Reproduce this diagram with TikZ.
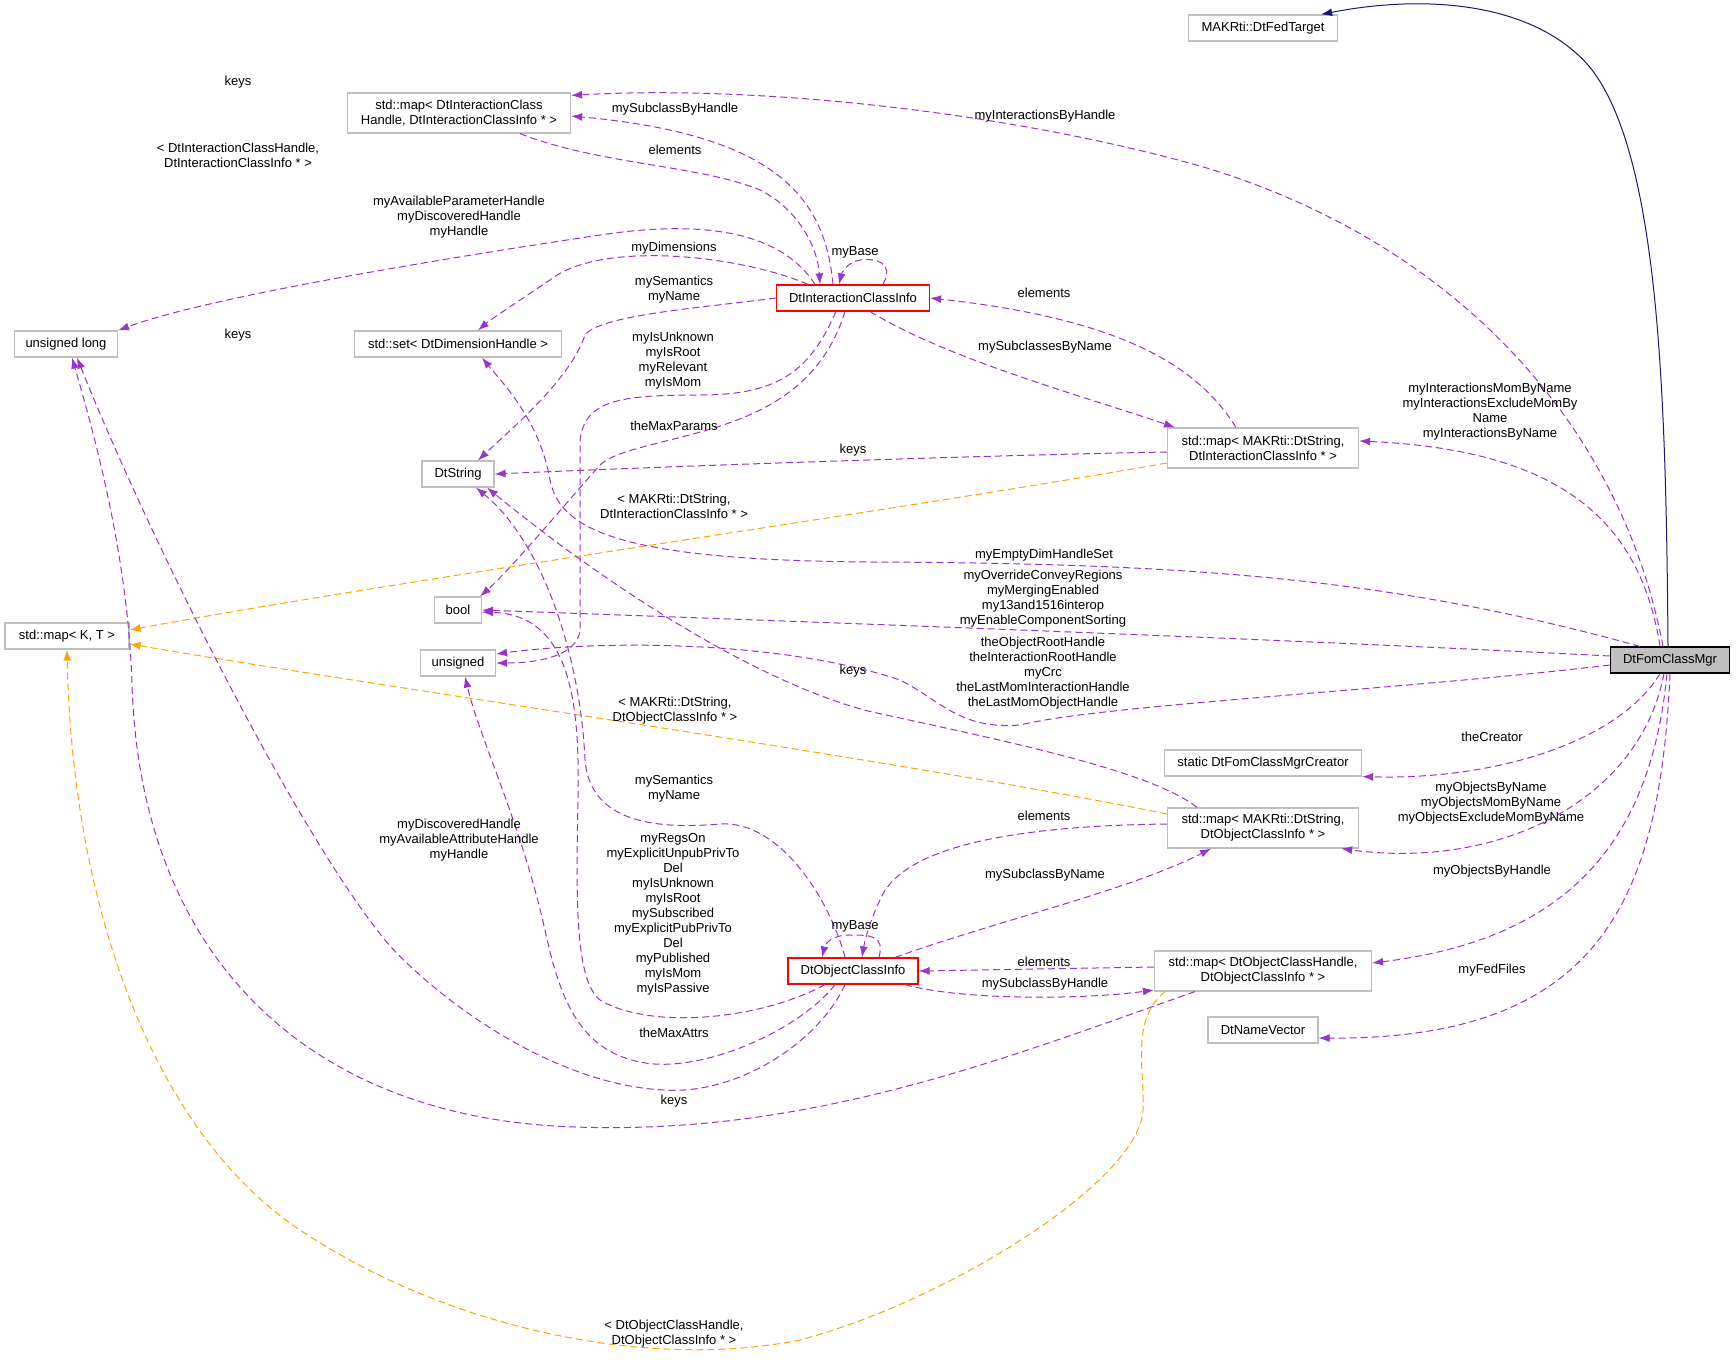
\documentclass[tikz,border=0pt]{standalone}
\usepackage{fontspec}
\setmainfont{Liberation Sans}
\usetikzlibrary{arrows.meta}
\definecolor{pur}{HTML}{9A32CD}
\definecolor{org}{HTML}{FFA500}
\definecolor{nav}{HTML}{191970}
\definecolor{gb}{HTML}{BFBFBF}
\begin{document}
\begin{tikzpicture}[x=1pt,y=-1pt,
  box/.style={draw=gb,line width=1.2pt,fill=white,inner sep=0pt,align=center,font=\fontsize{13}{15}\selectfont},
  rbox/.style={box,draw=red},
  lbl/.style={inner sep=0pt,align=center,font=\fontsize{13}{15}\selectfont},
  e/.style={draw=pur,line width=1pt,dash pattern=on 7pt off 4pt,-{Latex[length=11pt,width=8pt]}},
  o/.style={e,draw=org,-{Latex[length=11pt,width=8pt]}},
]
\path[fill=white] (0,0) rectangle (1736,1368);
\useasboundingbox (0,0) rectangle (1736,1368);
% nodes
\node[box,minimum width=149pt,minimum height=26pt] (ft) at (1263,28) {MAKRti::DtFedTarget};
\node[box,minimum width=223pt,minimum height=40pt] (mapIC) at (459,113) {std::map< DtInteractionClass\\Handle, DtInteractionClassInfo * >};
\node[box,minimum width=103pt,minimum height=26pt] (ulong) at (66,344) {unsigned long};
\node[box,minimum width=207pt,minimum height=26pt] (set) at (458,344) {std::set< DtDimensionHandle >};
\node[rbox,minimum width=153pt,minimum height=26pt] (ici) at (853,298) {DtInteractionClassInfo};
\node[box,minimum width=72pt,minimum height=26pt] (dstr) at (458,474) {DtString};
\node[box,minimum width=47pt,minimum height=26pt] (bool) at (458,610) {bool};
\node[box,minimum width=75pt,minimum height=26pt] (uns) at (458,663) {unsigned};
\node[box,minimum width=124pt,minimum height=26pt] (mapKT) at (67,636) {std::map< K, T >};
\node[box,minimum width=191pt,minimum height=40pt] (mapMI) at (1263,448) {std::map< MAKRti::DtString,\\DtInteractionClassInfo * >};
\node[box,draw=black,fill=gb,minimum width=119pt,minimum height=26pt] (mgr) at (1670,660) {DtFomClassMgr};
\node[box,minimum width=197pt,minimum height=26pt] (creator) at (1263,763) {static DtFomClassMgrCreator};
\node[box,minimum width=191pt,minimum height=40pt] (mapMO) at (1263,828) {std::map< MAKRti::DtString,\\DtObjectClassInfo * >};
\node[box,minimum width=217pt,minimum height=40pt] (mapOH) at (1263,971) {std::map< DtObjectClassHandle,\\DtObjectClassInfo * >};
\node[box,minimum width=110pt,minimum height=26pt] (namevec) at (1263,1030) {DtNameVector};
\node[rbox,minimum width=130pt,minimum height=26pt] (oci) at (853,971) {DtObjectClassInfo};
% edges
\draw[draw=nav,line width=1pt,-{Latex[length=11pt,width=8pt]}] ([xshift=-2pt]mgr.north) .. controls (1666,400) and (1660,150) .. (1588,65) .. controls (1530,0) and (1420,-5) .. ([xshift=-17pt]ft.north east);
\draw[e] ([xshift=-7pt]mgr.north) .. controls (1620,420) and (1450,240) .. (1200,166) .. controls (1000,110) and (750,85) .. ([yshift=-3pt]mapIC.north east);
\draw[e] ([xshift=-20pt]ici.north) .. controls (825,200) and (780,135) .. ([yshift=-3pt]mapIC.east);
\draw[e] ([xshift=61pt]mapIC.south) .. controls (600,165) and (700,165) .. (760,190) .. controls (800,210) and (818,250) .. ([xshift=-33pt]ici.north);
\draw[e] ([xshift=30pt]ici.north) .. controls (895,262) and (875,258) .. (860,260) .. controls (848,262) and (842,272) .. ([xshift=-14pt]ici.north);
\draw[e] ([xshift=-38pt]ici.north) .. controls (780,230) and (700,220) .. (600,235) .. controls (400,265) and (200,300) .. (ulong.north east);
\draw[e] ([xshift=-45pt]ici.north) .. controls (740,255) and (600,240) .. (550,280) .. controls (520,300) and (490,320) .. ([xshift=20pt]set.north);
\draw[e] (ici.west) .. controls (700,308) and (600,315) .. (585,335) .. controls (570,380) and (510,430) .. ([xshift=20pt]dstr.north);
\draw[e] ([xshift=-8pt]ici.south) .. controls (830,360) and (800,390) .. (760,410) .. controls (700,440) and (620,445) .. (600,465) .. controls (560,510) and (510,570) .. ([xshift=22pt]bool.north);
\draw[e] ([xshift=-17pt]ici.south) .. controls (810,370) and (780,395) .. (700,395) .. controls (620,395) and (585,400) .. (580,440) -- (580,630) .. controls (578,655) and (540,663) .. (uns.east);
\draw[e] ([yshift=-4pt]mapMI.west) .. controls (1000,455) and (700,465) .. (dstr.east);
\draw[o] ([yshift=-15pt]mapMI.west) .. controls (900,510) and (400,580) .. ([yshift=6pt]mapKT.east);
\draw[e] ([xshift=17pt]ici.south) .. controls (950,360) and (1080,395) .. ([xshift=-88pt]mapMI.north);
\draw[e] ([xshift=-27pt]mapMI.north) .. controls (1200,370) and (1130,320) .. (ici.east);
\draw[e] ([xshift=-10pt]mgr.north) .. controls (1640,520) and (1560,450) .. ([yshift=7pt]mapMI.east);
\draw[e] ([xshift=-30pt]mgr.north) .. controls (1400,580) and (1200,563) .. (868,562) .. controls (620,560) and (560,530) .. (550,480) .. controls (540,420) and (500,380) .. ([xshift=24pt]set.south);
\draw[e] ([yshift=4pt]mgr.west) .. controls (1300,640) and (900,625) .. (bool.east);
\draw[e] ([yshift=-5pt]mgr.west) .. controls (1400,690) and (1100,705) .. (1020,725) .. controls (960,730) and (940,700) .. (900,680) .. controls (780,640) and (600,640) .. ([yshift=9pt]uns.east);
\draw[e] ([xshift=-10pt]mgr.south) .. controls (1620,740) and (1500,780) .. (creator.south east);
\draw[e] ([xshift=-6pt]mgr.south) .. controls (1640,800) and (1500,870) .. ([xshift=-18pt]mapMO.south east);
\draw[e] ([xshift=-3pt]mgr.south) .. controls (1650,850) and (1560,940) .. ([yshift=8pt]mapOH.east);
\draw[e] (mgr.south) .. controls (1660,900) and (1600,1040) .. ([yshift=-8pt]namevec.east);
\draw[e] ([xshift=-66pt]mapMO.north) .. controls (1150,770) and (1000,740) .. (868,711) .. controls (750,680) and (600,580) .. ([xshift=29pt]dstr.south);
\draw[o] ([yshift=14pt]mapMO.west) .. controls (900,760) and (400,690) .. ([yshift=-8pt]mapKT.east);
\draw[e] ([yshift=4pt]mapMO.west) .. controls (1000,826) and (900,850) .. (880,900) .. controls (868,925) and (864,945) .. ([xshift=9pt]oci.north);
\draw[e] ([xshift=42pt]oci.north) .. controls (1000,920) and (1130,890) .. ([xshift=-52pt]mapMO.south);
\draw[e] ([xshift=26pt]oci.north) .. controls (885,935) and (870,935) .. (850,935) .. controls (830,935) and (825,945) .. ([xshift=-31pt]oci.north);
\draw[e] ([yshift=4pt]mapOH.west) -- (oci.east);
\draw[e] ([xshift=52pt]oci.south) .. controls (960,1000) and (1080,1000) .. ([yshift=-19pt]mapOH.west);
\draw[e] ([xshift=-68pt]mapOH.south) .. controls (1000,1060) and (800,1140) .. (554,1126) .. controls (300,1110) and (140,950) .. (132,684) .. controls (128,550) and (90,420) .. ([xshift=6pt]ulong.south);
\draw[o] ([xshift=-98pt]mapOH.south) .. controls (1130,1020) and (1145,1070) .. (1143,1110) .. controls (1140,1180) and (950,1300) .. (800,1340) .. controls (650,1370) and (450,1330) .. (300,1230) .. controls (150,1130) and (72,900) .. (mapKT.south);
\draw[e] ([xshift=-8pt]oci.north) .. controls (830,900) and (780,820) .. (720,824) .. controls (650,830) and (590,820) .. (585,760) .. controls (580,650) and (540,540) .. ([xshift=18pt]dstr.south);
\draw[e] ([xshift=-28pt]oci.south) .. controls (760,1020) and (650,1030) .. (600,1000) .. controls (575,980) and (576,900) .. (578,800) .. controls (580,700) and (570,615) .. ([yshift=-2pt]bool.east);
\draw[e] ([xshift=-18pt]oci.south) .. controls (800,1030) and (700,1075) .. (640,1062) .. controls (580,1050) and (560,1000) .. (545,930) .. controls (520,820) and (480,740) .. ([xshift=7pt]uns.south);
\draw[e] ([xshift=-8pt]oci.south) .. controls (820,1040) and (740,1095) .. (664,1090) .. controls (560,1085) and (450,1010) .. (390,946) .. controls (300,840) and (150,540) .. ([xshift=11pt]ulong.south);
% labels
\node[lbl] (l1) at (238,82) {keys};
\node[lbl] (l2) at (675,109) {mySubclassByHandle};
\node[lbl] (l3) at (675,150) {elements};
\node[lbl] (l4) at (238,155) {< DtInteractionClassHandle,\\DtInteractionClassInfo * >};
\node[lbl] (l5) at (459,217) {myAvailableParameterHandle\\myDiscoveredHandle\\myHandle};
\node[lbl] (l6) at (674,248) {myDimensions};
\node[lbl] (l7) at (855,252) {myBase};
\node[lbl] (l8) at (674,290) {mySemantics\\myName};
\node[lbl] (l9) at (238,335) {keys};
\node[lbl] (l10) at (673,361) {myIsUnknown\\myIsRoot\\myRelevant\\myIsMom};
\node[lbl] (l11) at (674,426) {theMaxParams};
\node[lbl] (l12) at (853,450) {keys};
\node[lbl] (l13) at (674,506) {< MAKRti::DtString,\\DtInteractionClassInfo * >};
\node[lbl] (l14) at (853,671) {keys};
\node[lbl] (l15) at (1045,116) {myInteractionsByHandle};
\node[lbl] (l16) at (1044,293) {elements};
\node[lbl] (l17) at (1045,347) {mySubclassesByName};
\node[lbl] (l18) at (1490,412) {myInteractionsMomByName\\myInteractionsExcludeMomBy\\Name\\myInteractionsByName};
\node[lbl] (l19) at (1044,555) {myEmptyDimHandleSet};
\node[lbl] (l20) at (1043,599) {myOverrideConveyRegions\\myMergingEnabled\\my13and1516interop\\myEnableComponentSorting};
\node[lbl] (l21) at (1043,673) {theObjectRootHandle\\theInteractionRootHandle\\myCrc\\theLastMomInteractionHandle\\theLastMomObjectHandle};
\node[lbl] (l22) at (1492,737) {theCreator};
\node[lbl] (l23) at (1491,803) {myObjectsByName\\myObjectsMomByName\\myObjectsExcludeMomByName};
\node[lbl] (l24) at (1492,871) {myObjectsByHandle};
\node[lbl] (l25) at (1492,970) {myFedFiles};
\node[lbl] (l26) at (1044,816) {elements};
\node[lbl] (l27) at (1045,875) {mySubclassByName};
\node[lbl] (l28) at (1044,962) {elements};
\node[lbl] (l29) at (1045,984) {mySubclassByHandle};
\node[lbl] (l30) at (675,711) {< MAKRti::DtString,\\DtObjectClassInfo * >};
\node[lbl] (l31) at (674,789) {mySemantics\\myName};
\node[lbl] (l32) at (459,840) {myDiscoveredHandle\\myAvailableAttributeHandle\\myHandle};
\node[lbl] (l33) at (673,914) {myRegsOn\\myExplicitUnpubPrivTo\\Del\\myIsUnknown\\myIsRoot\\mySubscribed\\myExplicitPubPrivTo\\Del\\myPublished\\myIsMom\\myIsPassive};
\node[lbl] (l34) at (855,926) {myBase};
\node[lbl] (l35) at (674,1033) {theMaxAttrs};
\node[lbl] (l36) at (674,1101) {keys};
\node[lbl] (l37) at (674,1334) {< DtObjectClassHandle,\\DtObjectClassInfo * >};
\end{tikzpicture}
\end{document}
